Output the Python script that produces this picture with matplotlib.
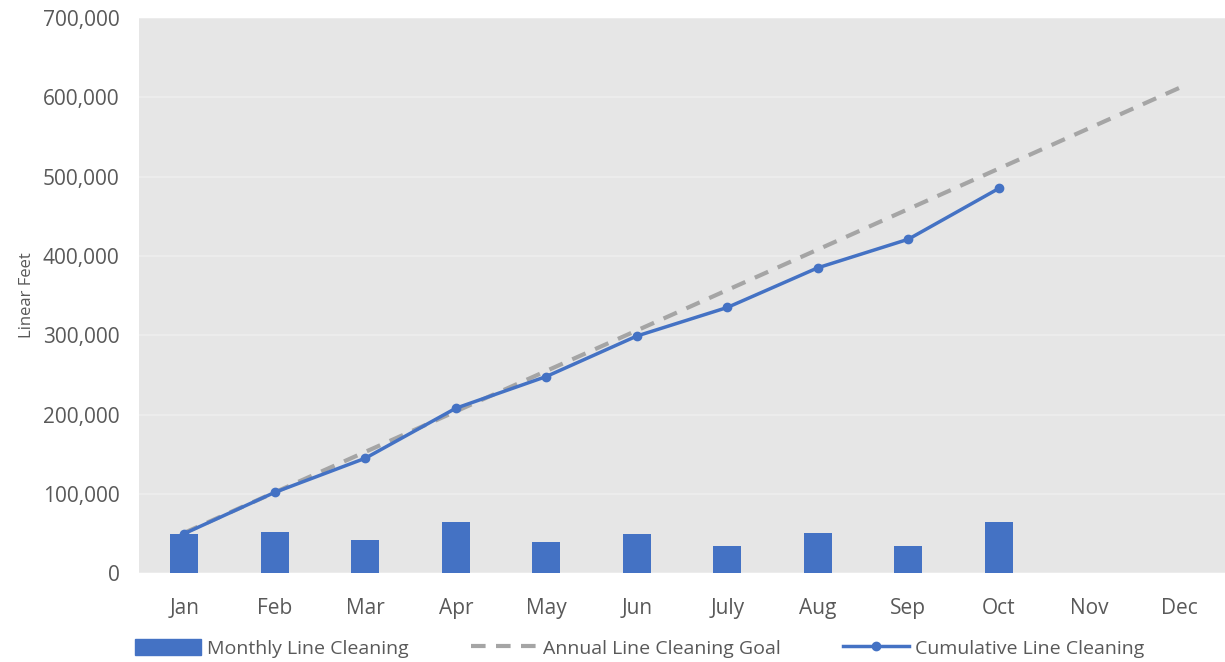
import matplotlib.pyplot as plt
from matplotlib.ticker import FuncFormatter
from matplotlib.lines import Line2D
from matplotlib.patches import Patch

months = ["Jan", "Feb", "Mar", "Apr", "May", "Jun", "July", "Aug", "Sep", "Oct", "Nov", "Dec"]
monthly = [50000, 51500, 42500, 65000, 40000, 50000, 35000, 51000, 35000, 65000]
cumulative = [50000, 102000, 145000, 208000, 248000, 299000, 335000, 385000, 421000, 485000]
goal = [51000, 102000, 153000, 204000, 255000, 306000, 357000, 408000, 459000, 510000, 561000, 612000]

plt.rcParams['font.family'] = ['Open Sans', 'DejaVu Sans']
text_col = "#595959"
blue = "#4472c4"

fig = plt.figure(figsize=(12.25, 6.62), dpi=100)
ax = fig.add_axes([0.1135, 0.134, 0.8865, 0.839])
ax.set_facecolor("#e6e6e6")

x = range(len(months))
ax.bar(range(len(monthly)), monthly, width=0.31, color=blue, zorder=2)
ax.plot(x, goal, color="#a5a5a5", lw=3, dashes=(3.5, 2.5), zorder=3)
ax.plot(range(len(cumulative)), cumulative, color=blue, lw=2.5, marker="o", ms=6, zorder=4)

ax.set_xlim(-0.5, 11.5)
ax.set_ylim(0, 700000)
ax.set_yticks(range(0, 700001, 100000))
ax.yaxis.set_major_formatter(FuncFormatter(lambda v, p: f"{int(v):,}"))
ax.set_xticks(list(x))
ax.set_xticklabels(months)
ax.grid(axis="y", color="#eeeeee", lw=1.2, zorder=0)
ax.set_axisbelow(True)
for s in ax.spines.values():
    s.set_visible(False)
ax.tick_params(length=0, colors=text_col, labelsize=15, pad=18)
ax.tick_params(axis="y", pad=14)
ax.set_ylabel("Linear Feet", color=text_col, fontsize=12, labelpad=6)

handles = [
    Patch(color=blue),
    Line2D([], [], color="#a5a5a5", lw=3, dashes=(3.5, 2.5)),
    Line2D([], [], color=blue, lw=2.5, marker="o", ms=6),
]
labels = ["Monthly Line Cleaning", "Annual Line Cleaning Goal", "Cumulative Line Cleaning"]
fig.legend(handles, labels, loc="lower center", bbox_to_anchor=(0.522, -0.02), ncol=3,
           frameon=False, fontsize=14, labelcolor=text_col, handlelength=3.4,
           handleheight=0.9, columnspacing=3.2, handletextpad=0.3)

fig.savefig("out.png", dpi=100)
